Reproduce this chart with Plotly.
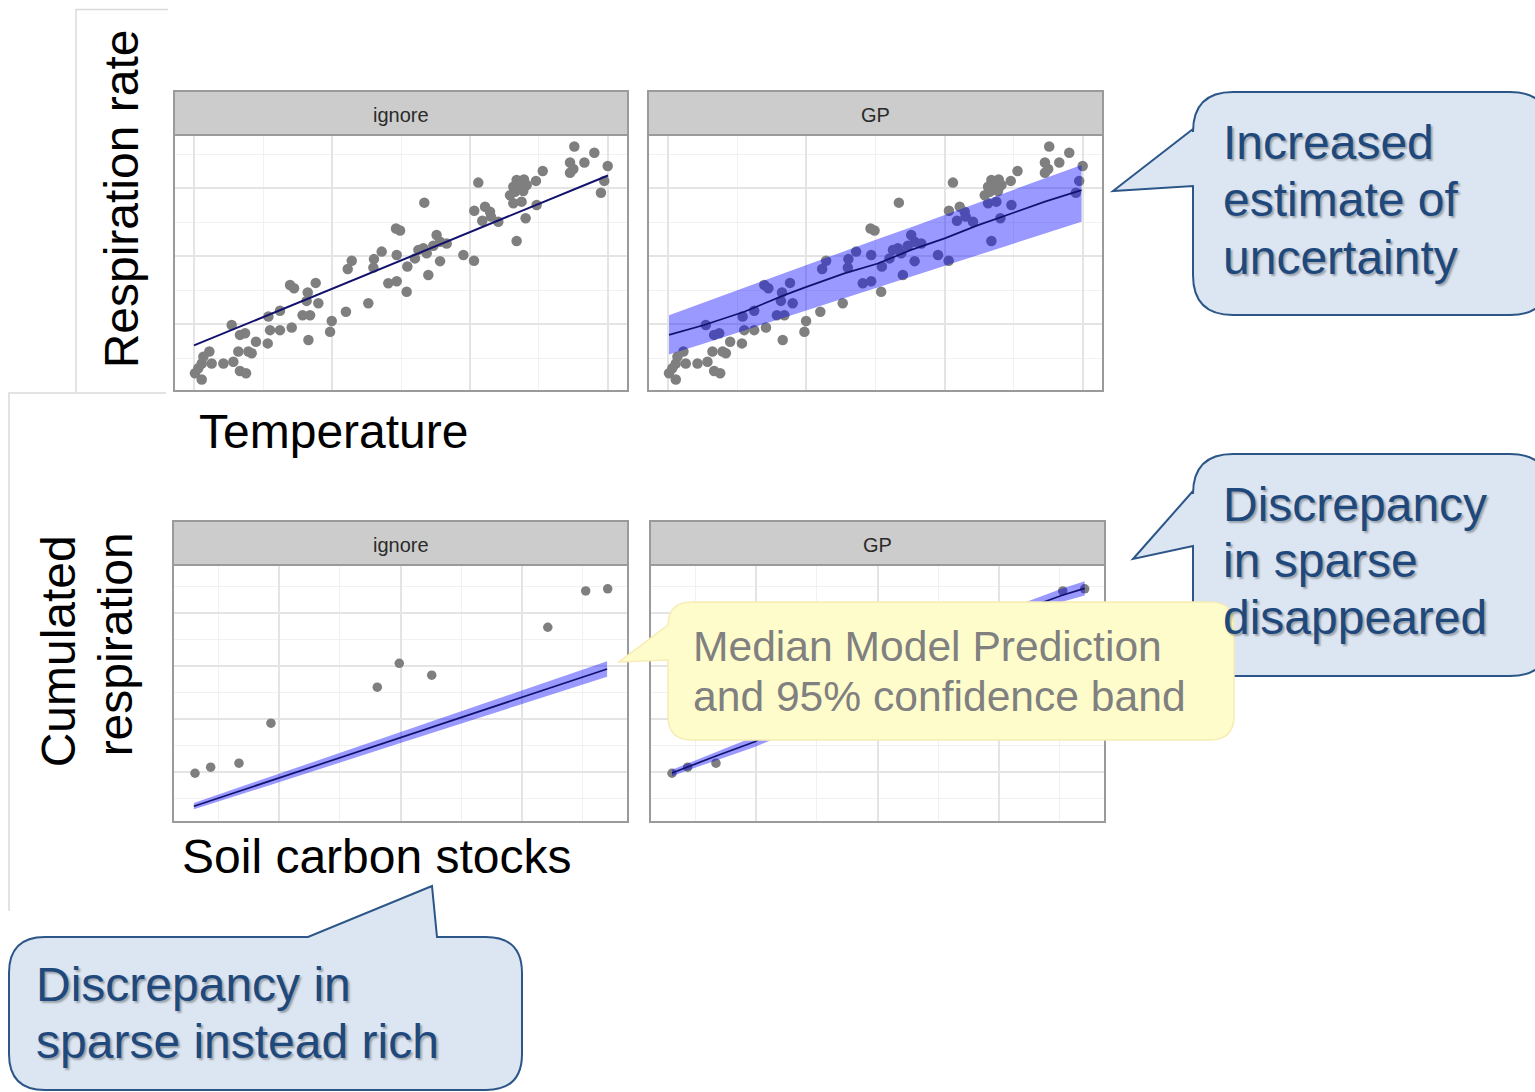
import plotly.graph_objects as go

W, H = 1535, 1092
FONT = "Liberation Sans, Arial, sans-serif"

# ---------------- data: respiration rate vs temperature ----------------
temperature = [27.56, 29.01, 27.25, 28.29, 29.98, 27.25, 27.49, 25.27, 24.78, 23.38,
               23.91, 23.62, 23.14, 24.11, 23.26, 23.86, 22.90, 23.14, 23.74, 24.83,
               24.03, 23.38, 29.49, 29.73, 20.60, 16.69, 20.31, 21.09, 21.45, 20.89,
               22.05, 21.52, 14.64, 14.93, 17.58, 17.83, 18.31, 17.34, 16.62, 16.26,
               16.01, 16.86, 17.83, 14.69, 15.46, 16.98, 13.60, 13.04, 13.00, 11.43,
               11.14, 19.52, 20.29, 14.08, 14.69, 15.41, 12.63, 11.01, 9.98, 9.86,
               8.82, 8.24, 8.16, 9.01, 6.96, 7.25, 7.87, 8.41, 6.23, 5.39,
               6.23, 5.51, 7.08, 8.29, 5.34, 4.49, 2.73, 3.33, 3.70, 3.94,
               3.21, 4.18, 2.85, 2.13, 1.28, 1.11, 0.68, 0.56, 0.31, 0.07,
               0.56, 3.33, 3.77]
respiration_rate = [7.22, 7.04, 6.75, 6.75, 6.65, 6.45, 6.56, 6.50, 6.21, 6.24,
                    6.25, 6.14, 6.04, 6.09, 5.89, 5.91, 5.79, 5.55, 5.60, 5.50,
                    5.11, 4.44, 5.86, 6.21, 6.16, 5.57, 5.33, 5.45, 5.30, 5.04,
                    5.01, 5.16, 4.81, 4.75, 4.62, 4.42, 4.37, 4.30, 4.23, 4.18,
                    3.93, 4.08, 3.85, 4.03, 3.69, 3.44, 4.13, 3.91, 3.66, 3.86,
                    3.62, 4.03, 3.86, 3.20, 3.26, 2.95, 2.61, 2.36, 2.09, 1.77,
                    3.21, 2.93, 2.68, 2.61, 3.15, 3.05, 2.26, 2.26, 2.39, 2.22,
                    1.82, 1.82, 1.90, 1.53, 1.43, 1.48, 1.97, 1.68, 1.73, 1.19,
                    1.19, 1.14, 0.89, 0.84, 0.84, 1.19, 1.04, 0.84, 0.70, 0.55,
                    0.37, 0.62, 0.55]

# model fit ignoring the discrepancy
temp_fit = [0, 30]
rate_fit_ignore = [1.37, 6.37]

# GP model: median and 95% band
temp_gp = [0.07, 2.61, 5.51, 8.41, 9.86, 12.75, 15.17, 17.58, 20.0, 22.42, 24.83, 27.25, 29.9]
rate_gp_median = [1.68, 1.97, 2.36, 2.85, 3.07, 3.49, 3.78, 4.18, 4.52, 4.91, 5.25, 5.60, 5.94]
rate_gp_upper = [2.26, 2.64, 3.07, 3.50, 3.71, 4.14, 4.50, 4.85, 5.21, 5.57, 5.93, 6.29, 6.68]
rate_gp_lower = [1.10, 1.43, 1.81, 2.19, 2.38, 2.76, 3.08, 3.39, 3.71, 4.03, 4.35, 4.66, 5.01]

# ---------------- data: cumulated respiration vs soil carbon ----------------
soil_carbon = [30.9, 43.8, 67.1, 93.4, 180.9, 199.0, 225.7, 321.2, 352.4, 370.5]
cum_respiration = [19.5, 21.8, 23.3, 38.4, 52.0, 61.0, 56.5, 74.6, 88.3, 89.1]

soil_ignore = [30, 100, 200, 300, 370]
cum_ignore_median = [7.06, 17.72, 32.95, 48.18, 58.84]
cum_ignore_upper = [8.3, 19.3, 35.0, 50.7, 61.8]
cum_ignore_lower = [5.9, 16.1, 30.9, 45.7, 55.9]

soil_gp = [30.9, 43.8, 67.1, 99, 140, 181, 200, 226, 270, 321, 352, 370.5]
cum_gp_median = [19.6, 21.9, 26.0, 31.4, 42.0, 52.5, 58.5, 58.0, 66.0, 81.5, 86.7, 89.3]
cum_gp_upper = [20.8, 23.2, 27.6, 33.4, 46.5, 54.5, 60.5, 60.2, 71.0, 83.9, 89.2, 92.0]
cum_gp_lower = [18.4, 20.6, 24.4, 29.4, 37.5, 50.5, 56.5, 55.8, 61.0, 79.1, 84.2, 86.6]

strip_labels = ["ignore", "GP", "ignore", "GP"]

# ---------------- layout helpers ----------------
def fx(px):
    return px / W


def fy(py):
    return 1 - py / H


# panel boxes in pixels: (left, right, top of plot area, bottom, top of strip)
panels = [
    (174, 628, 135, 391, 91),
    (648, 1103, 135, 391, 91),
    (173, 628, 565, 822, 521),
    (650, 1105, 565, 822, 521),
]

POINT = "#7f7f7f"
BAND = "rgba(0,0,255,0.40)"
LINE = "#12126e"
GRID_MAJ = "#e4e4e4"
GRID_MIN = "#f1f1f1"


def axis_common(domain, rng, dtick, minor_dtick):
    return dict(domain=domain, range=rng, dtick=dtick, tick0=0,
                showticklabels=False, ticks="", zeroline=False, showline=False,
                showgrid=True, gridcolor=GRID_MAJ, gridwidth=1.6,
                minor=dict(dtick=minor_dtick, tick0=0, showgrid=True,
                           gridcolor=GRID_MIN, gridwidth=1),
                fixedrange=True)


fig = go.Figure()


def band(x, lo, hi, xa, ya):
    fig.add_trace(go.Scatter(x=list(x) + list(x)[::-1], y=list(hi) + list(lo)[::-1],
                             fill="toself", fillcolor=BAND, mode="lines",
                             line=dict(width=0), xaxis=xa, yaxis=ya, hoverinfo="skip"))


def points(x, y, xa, ya, size):
    fig.add_trace(go.Scatter(x=x, y=y, mode="markers",
                             marker=dict(color=POINT, size=size),
                             xaxis=xa, yaxis=ya))


def median(x, y, xa, ya, width=1.7):
    fig.add_trace(go.Scatter(x=x, y=y, mode="lines", line=dict(color=LINE, width=width),
                             xaxis=xa, yaxis=ya))


# top left: ignore
points(temperature, respiration_rate, "x", "y", 10.5)
median(temp_fit, rate_fit_ignore, "x", "y", 2)
# top right: GP
points(temperature, respiration_rate, "x2", "y2", 10.5)
band(temp_gp, rate_gp_lower, rate_gp_upper, "x2", "y2")
median(temp_gp, rate_gp_median, "x2", "y2")
# bottom left: ignore
points(soil_carbon, cum_respiration, "x3", "y3", 9.5)
band(soil_ignore, cum_ignore_lower, cum_ignore_upper, "x3", "y3")
median(soil_ignore, cum_ignore_median, "x3", "y3")
# bottom right: GP
points(soil_carbon, cum_respiration, "x4", "y4", 9.5)
band(soil_gp, cum_gp_lower, cum_gp_upper, "x4", "y4")
median(soil_gp, cum_gp_median, "x4", "y4")

temp_range = [-1.45, 31.45]
rate_range = [0.03, 7.56]
soil_range = [12.8, 387.2]
cum_range = [1.1, 98.1]

layout_axes = {}
for i, (l, r, t, b, s) in enumerate(panels):
    k = "" if i == 0 else str(i + 1)
    xd = [fx(l), fx(r)]
    yd = [fy(b), fy(t)]
    if i < 2:
        layout_axes["xaxis" + k] = axis_common(xd, temp_range, 10, 5)
        layout_axes["yaxis" + k] = axis_common(yd, rate_range, 2, 1)
    else:
        layout_axes["xaxis" + k] = axis_common(xd, soil_range, 100, 50)
        layout_axes["yaxis" + k] = axis_common(yd, cum_range, 20, 10)
    layout_axes["xaxis" + k]["anchor"] = "y" + k
    layout_axes["yaxis" + k]["anchor"] = "x" + k

shapes = []
annotations = []


def pline(pts, color, width):
    path = "M" + " L".join(f"{fx(a):.5f},{fy(b):.5f}" for a, b in pts)
    shapes.append(dict(type="path", path=path, xref="paper", yref="paper",
                       line=dict(color=color, width=width), layer="below"))


# light frame edges around the embedded figures
pline([(168, 9.5), (76, 9.5), (76, 392)], "#dadada", 1.5)
pline([(166, 393), (9, 393), (9, 911)], "#dadada", 1.5)

# strips and panel borders
for i, (l, r, t, b, s) in enumerate(panels):
    shapes.append(dict(type="rect", xref="paper", yref="paper",
                       x0=fx(l), x1=fx(r), y0=fy(t), y1=fy(s),
                       fillcolor="#cccccc", line=dict(color="#9a9a9a", width=2),
                       layer="above"))
    shapes.append(dict(type="rect", xref="paper", yref="paper",
                       x0=fx(l), x1=fx(r), y0=fy(b), y1=fy(t),
                       line=dict(color="#9a9a9a", width=2), layer="above"))
    annotations.append(dict(text=strip_labels[i], x=fx((l + r) / 2), y=fy((s + t) / 2 + 2),
                            xref="paper", yref="paper", showarrow=False,
                            xanchor="center", yanchor="middle",
                            font=dict(family=FONT, size=20, color="#2a2a2a")))


def callout(x0, y0, x1, y1, rad, tail_side, tail):
    """Rounded box with a pointer; tail = three points (base, tip, base) in drawing order."""
    cmd = [f"M{fx(x0 + rad):.5f},{fy(y0):.5f}"]

    def L(a, b):
        cmd.append(f"L{fx(a):.5f},{fy(b):.5f}")

    def Q(cx, cy, a, b):
        cmd.append(f"Q{fx(cx):.5f},{fy(cy):.5f} {fx(a):.5f},{fy(b):.5f}")

    if tail_side == "top":
        for a, b in tail:
            L(a, b)
    L(x1 - rad, y0)
    Q(x1, y0, x1, y0 + rad)
    L(x1, y1 - rad)
    Q(x1, y1, x1 - rad, y1)
    L(x0 + rad, y1)
    Q(x0, y1, x0, y1 - rad)
    if tail_side == "left":
        for a, b in tail:
            L(a, b)
    L(x0, y0 + rad)
    Q(x0, y0, x0 + rad, y0)
    cmd.append("Z")
    return " ".join(cmd)


BLUE_FILL = "#dce6f2"
BLUE_LINE = "#2c5687"
BLUE_TEXT = "#1f497d"
SHADOW = "2px 2px 2px rgba(0,0,0,0.30)"

shapes.append(dict(type="path", xref="paper", yref="paper",
                   path=callout(1193, 92, 1550, 315, 40, "left",
                                [(1193, 186), (1113, 191), (1193, 129)]),
                   fillcolor=BLUE_FILL, line=dict(color=BLUE_LINE, width=2), layer="above"))
shapes.append(dict(type="path", xref="paper", yref="paper",
                   path=callout(1193, 454, 1550, 676, 40, "left",
                                [(1193, 546), (1133, 559), (1193, 491)]),
                   fillcolor=BLUE_FILL, line=dict(color=BLUE_LINE, width=2), layer="above"))
shapes.append(dict(type="path", xref="paper", yref="paper",
                   path=callout(9, 937, 522, 1090, 36, "top",
                                [(308, 937), (432, 886), (437, 937)]),
                   fillcolor=BLUE_FILL, line=dict(color=BLUE_LINE, width=2), layer="above"))
shapes.append(dict(type="path", xref="paper", yref="paper",
                   path=callout(668, 602, 1234, 740, 24, "left",
                                [(668, 660), (619, 662), (668, 625)]),
                   fillcolor="#fffccb", line=dict(color="#f6ecb4", width=1.5), layer="above"))


def text(s, x, baseline, size, color, anchor="left", angle=0, shadow=None):
    f = dict(family=FONT, size=size, color=color)
    if shadow:
        f["shadow"] = shadow
    off = 0.3465 * size
    if angle == -90:
        # rotated text: baseline is a vertical line at x = baseline
        annotations.append(dict(text=s, x=fx(baseline - off), y=fy(x), xref="paper",
                                yref="paper", showarrow=False, textangle=-90,
                                xanchor="center", yanchor="middle", font=f))
    else:
        annotations.append(dict(text=s, x=fx(x), y=fy(baseline - off), xref="paper",
                                yref="paper", showarrow=False, xanchor=anchor,
                                yanchor="middle", font=f))


# axis titles
text("Respiration rate", 199, 138, 48, "black", angle=-90)
text("Temperature", 333, 448, 48, "black", anchor="center")
text("Cumulated", 651, 75, 48, "black", angle=-90)
text("respiration", 644, 132, 48, "black", angle=-90)
text("Soil carbon stocks", 377, 873, 48, "black", anchor="center")

# callout texts
for s, b in [("Increased", 159), ("estimate of", 216), ("uncertainty", 274)]:
    text(s, 1221, b, 48, BLUE_TEXT, shadow=SHADOW)
for s, b in [("Discrepancy", 521), ("in sparse", 577), ("disappeared", 634)]:
    text(s, 1221, b, 48, BLUE_TEXT, shadow=SHADOW)
for s, b in [("Discrepancy in", 1001), ("sparse instead rich", 1058)]:
    text(s, 34, b, 48, BLUE_TEXT, shadow=SHADOW)
for s, b in [("Median Model Prediction", 661), ("and 95% confidence band", 711)]:
    text(s, 691, b, 42.6, "#808080")

fig.update_layout(width=W, height=H, autosize=False,
                  margin=dict(l=0, r=0, t=0, b=0, pad=0),
                  paper_bgcolor="white", plot_bgcolor="white",
                  showlegend=False, shapes=shapes, annotations=annotations,
                  **layout_axes)

fig.write_html("out.html")
